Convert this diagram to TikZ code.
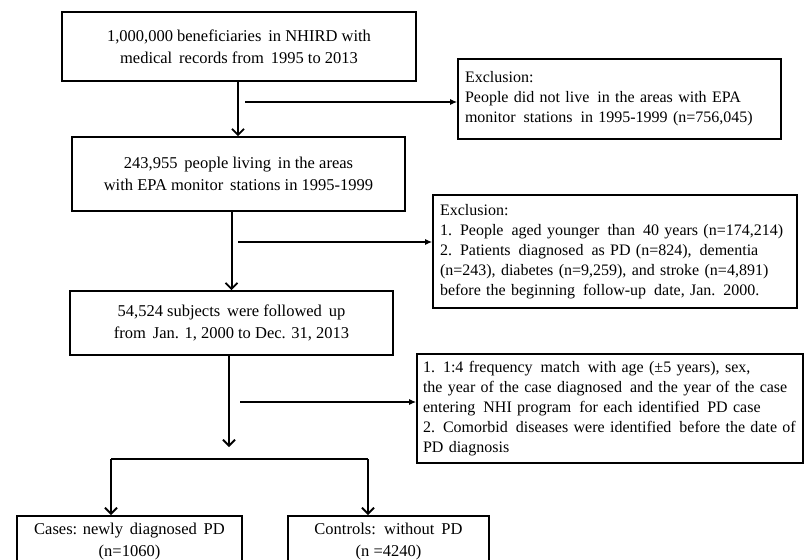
\documentclass[tikz,border=0pt]{standalone}
\usepackage{fontspec}
\setmainfont{Liberation Serif}
\usetikzlibrary{arrows.meta,positioning}
\tikzset{>={Straight Barb[length=6pt,width=12pt,line width=1.8pt]},shorten >=0pt}
\tikzset{mainbox/.style={draw,line width=1.8pt,align=center,inner sep=0pt,
        font=\fontsize{16.5}{22}\selectfont}}
\tikzset{exbox/.style={draw,line width=1.8pt,align=left,inner sep=0pt,
        font=\fontsize{16}{20}\selectfont}}
\tikzset{thin line/.style={line width=1.1pt,-{Latex[length=7pt,width=6pt]}}}

\begin{document}
\begin{tikzpicture}[x=1pt,y=-1pt,line width=2pt]
                \useasboundingbox (0,0) rectangle (804,560);
                    \node[mainbox,minimum width=354pt,minimum height=69pt] (b1) at (239,46.5)
                        {1,000,000 beneficiaries\, in NHIRD with\\ medical\, records from\, 1995 to 2013};
                    \node[mainbox,minimum width=333pt,minimum height=74pt] (b2) at (238.5,174)
                        {243,955\, people living\, in the areas\\ with EPA monitor\, stations in 1995-1999};
                    \node[mainbox,minimum width=323pt,minimum height=64pt] (b3) at (231.5,323)
                        {54,524 subjects\, were followed\, up\\ from\, Jan. 1, 2000 to Dec. 31, 2013};
                    \node[exbox,minimum width=323pt,minimum height=80pt,text width=309pt] (ex1) at (619.5,99)
                        {Exclusion:\\ People did not live\, in the areas with EPA\\ monitor\, stations\, in 1995-1999 (n=756,045)};
                    \node[exbox,minimum width=364pt,minimum height=113pt,text width=350pt] (ex2) at (615,251.5)
                        {Exclusion:\\ 1. People\, aged younger\, than\, 40 years (n=174,214)\\
                         2. Patients\, diagnosed\, as PD (n=824),\, dementia\\
                         (n=243), diabetes (n=9,259), and stroke (n=4,891)\\
                         before the beginning\, follow-up\, date, Jan. 2000.};
                    \node[exbox,minimum width=386pt,minimum height=109pt,text width=374pt] (mt) at (610,408.5)
                        {1. 1:4 frequency\, match\, with age (±5 years), sex,\\
                         the year of the case diagnosed\, and the year of the case\\
                         entering\, NHI program\, for each identified\, PD case\\
                         2. Comorbid\, diseases were identified\, before the date of\\
                         PD diagnosis};
                    \node[mainbox,minimum width=225pt,minimum height=52pt,anchor=north] (ca) at (129.5,515)
                        {Cases: newly\, diagnosed\, PD\\ (n=1060)};
                    \node[mainbox,minimum width=201pt,minimum height=52pt,anchor=north] (co) at (388.5,515)
                        {Controls:\, without\, PD\\ (n =4240)};
                    \coordinate (s1) at (245,102);
                    \coordinate (s2) at (238,242);
                    \coordinate (s3) at (240,402);
                    \coordinate (m) at (229,447);
                    \coordinate (f1) at (111,459);
                    \coordinate (f2) at (368,459);
                \path[->]
                        (b1.south -| 238,0) edge (b2.north -| 238,0)
                        (b2.south -| b3.north) edge (b3.north)
                        (b3.south -| m) edge (m)
                        (f1) edge (ca.north -| f1)
                        (f2) edge (co.north -| f2)
                        ;
                \draw (f1) -- (f2);
                \path[thin line]
                        (s1) edge (ex1.west |- s1)
                        (s2) edge (ex2.west |- s2)
                        (s3) edge (mt.west |- s3)
                        ;
            \end{tikzpicture}
\end{document}
